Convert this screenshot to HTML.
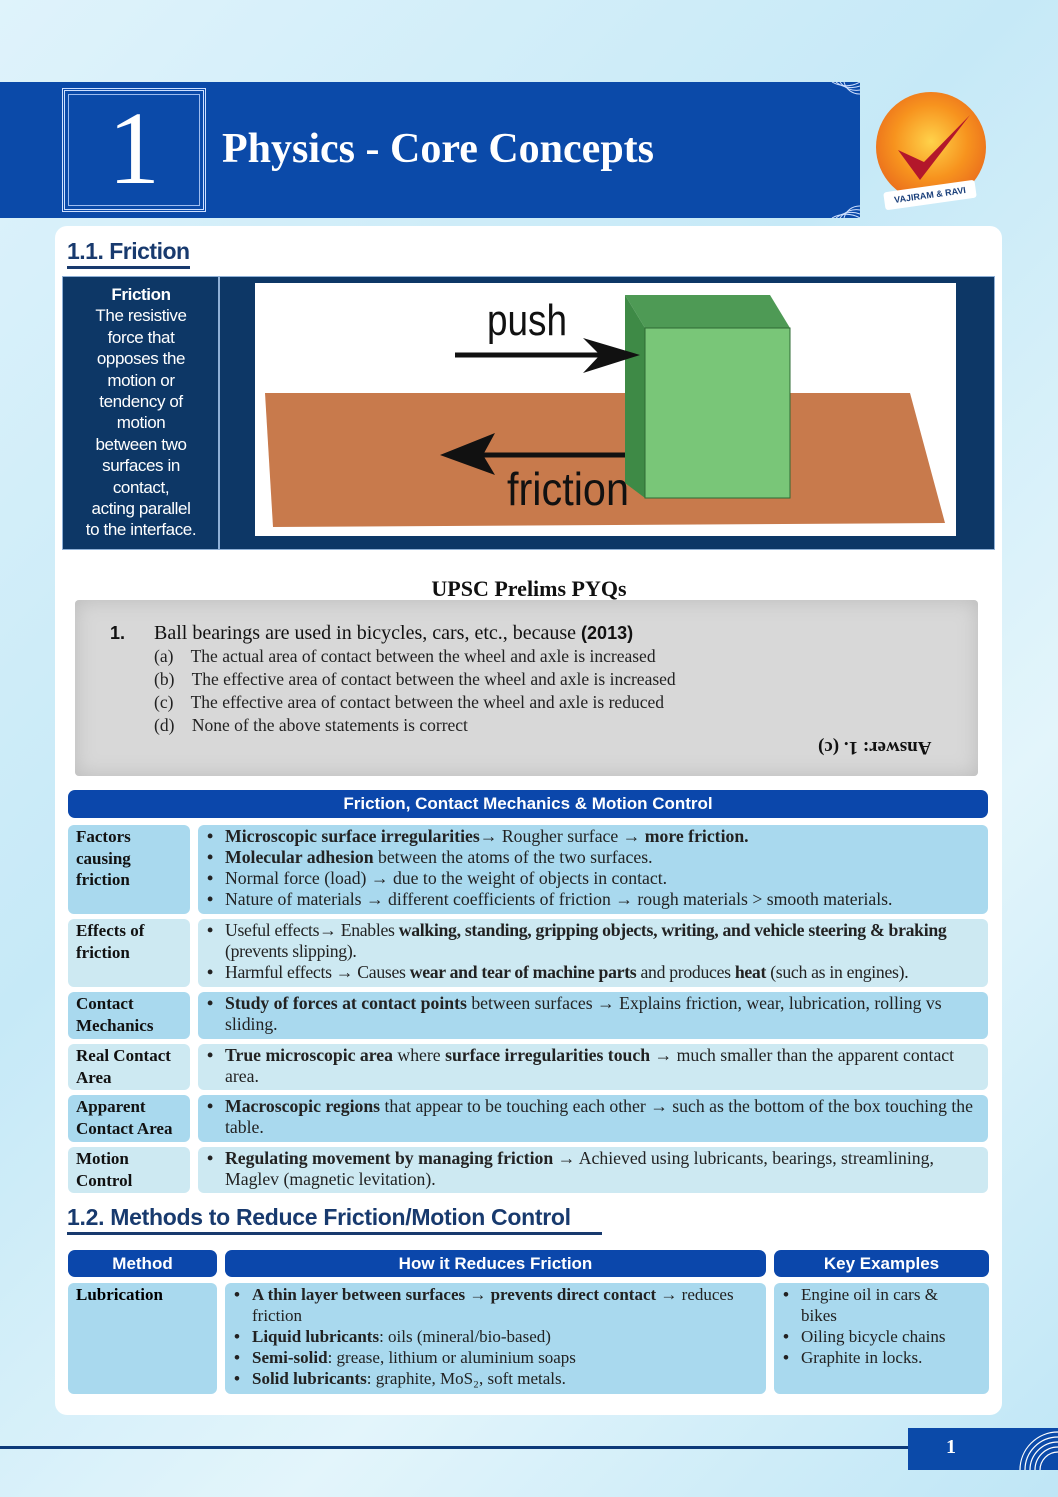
<!DOCTYPE html>
<html><head><meta charset="utf-8"><style>
*{margin:0;padding:0;box-sizing:border-box}
body{width:1058px;height:1497px;position:relative;overflow:hidden;font-family:"Liberation Serif",serif;background:linear-gradient(135deg,#dff3fb 0%,#c6e9f7 40%,#e3f5fb 70%,#bfe6f6 100%);}
.a{position:absolute}
.sans{font-family:"Liberation Sans",sans-serif}
.row{position:absolute;left:68px;width:920px}
.lc{position:absolute;left:0;width:122px;top:0;bottom:0;border-radius:6px;padding:1px 8px;font-weight:bold;font-size:17px;line-height:21.5px;color:#111}
.rc{position:absolute;left:130px;right:0;top:0;bottom:0;border-radius:6px;padding:1px 6px 0 27px;font-size:17.7px;line-height:21px;color:#222}
.rc div{position:relative}
.rc div:before{content:"•";position:absolute;left:-18px;font-weight:bold}
.d .lc,.d .rc{background:#a9d9ee}
.l .lc,.l .rc{background:#cde9f2}
.hd{position:absolute;background:#0b47ab;color:#fff;border-radius:7px;font-family:"Liberation Sans",sans-serif;font-weight:bold;font-size:17px;text-align:center;line-height:28px}
</style></head><body>
<div class="a" style="left:0;top:82px;width:860px;height:136px;background:#0b4aa9"></div>
<div class="a" style="left:62px;top:88px;width:144px;height:124px;border:3px double #cfe0ff"></div>
<div class="a" style="left:68px;top:94px;width:132px;height:112px;border:1px solid #9fbdf0"></div>
<div class="a" style="left:62px;top:84px;width:144px;text-align:center;color:#fff;font-size:104px;line-height:130px">1</div>
<div class="a" style="left:222px;top:124px;color:#fff;font-size:42px;font-weight:bold;line-height:50px">Physics - Core Concepts</div>
<svg class="a" style="left:830px;top:82px" width="30" height="136"><g fill="none" stroke="#cfe0ff" stroke-width="1"><path d="M30 0 A28 28 0 0 1 2 0"/><path d="M30 4 A24 24 0 0 1 6 0"/><path d="M30 8 A20 20 0 0 1 10 0"/><path d="M30 12 A16 16 0 0 1 14 0"/><path d="M30 136 A28 28 0 0 0 2 136"/><path d="M30 132 A24 24 0 0 0 6 136"/><path d="M30 128 A20 20 0 0 0 10 136"/><path d="M30 124 A16 16 0 0 0 14 136"/></g></svg>
<div class="a" style="left:876px;top:92px;width:110px;height:110px;border-radius:50%;background:radial-gradient(circle at 50% 45%,#ffd24a 0%,#f7931e 45%,#e0501b 100%)"></div>
<svg class="a" style="left:890px;top:110px" width="90" height="80"><path d="M8 40 L30 70 L80 5 L34 52 Z" fill="#b3172b"/></svg>
<div class="a sans" style="left:884px;top:186px;width:92px;height:18px;background:#fff;transform:rotate(-8deg);border-radius:3px;font-size:9px;font-weight:bold;color:#1a3f7a;text-align:center;line-height:18px">VAJIRAM &amp; RAVI</div>
<div class="a" style="left:55px;top:226px;width:947px;height:1189px;background:#fff;border-radius:12px"></div>
<div class="a sans" style="left:67px;top:236px;font-size:23px;font-weight:bold;color:#183a6e;line-height:30px;letter-spacing:-0.5px">1.1. Friction</div>
<div class="a" style="left:67px;top:266px;width:123px;height:3px;background:#183a6e"></div>
<div class="a" style="left:62px;top:276px;width:933px;height:274px;background:#0d3766;border:1px solid #8fb0d6"></div>
<div class="a" style="left:218px;top:276px;width:2px;height:274px;background:#8fb0d6"></div>
<div class="a sans" style="left:66px;top:284px;width:150px;text-align:center;color:#fff;font-size:17px;line-height:21.4px;letter-spacing:-0.4px"><b>Friction</b><br>The resistive<br>force that<br>opposes the<br>motion or<br>tendency of<br>motion<br>between two<br>surfaces in<br>contact,<br>acting parallel<br>to the interface.</div>
<svg class="a" style="left:255px;top:283px" width="701" height="253">
<rect width="701" height="253" fill="#fff"/>
<polygon points="10,110 655,110 690,240 18,244" fill="#c87a4c"/>
<polygon points="370,12 515,12 535,45 390,45" fill="#4e9a55"/>
<polygon points="370,12 390,45 390,215 370,200" fill="#3e8a46"/>
<rect x="390" y="45" width="145" height="170" fill="#79c678" stroke="#2d6b33"/>
<line x1="200" y1="72" x2="365" y2="72" stroke="#111" stroke-width="5"/>
<polygon points="328,55 385,72 328,90 345,72" fill="#111"/>
<line x1="210" y1="172" x2="370" y2="172" stroke="#111" stroke-width="5"/>
<polygon points="185,172 240,150 228,172 240,192" fill="#111"/>
<text x="232" y="52" font-family="Liberation Sans" font-size="44" fill="#111" textLength="80" lengthAdjust="spacingAndGlyphs">push</text>
<text x="252" y="222" font-family="Liberation Sans" font-size="46" fill="#111" textLength="122" lengthAdjust="spacingAndGlyphs">friction</text>
</svg>
<div class="a" style="left:0;top:576px;width:1058px;text-align:center;font-size:22px;font-weight:bold;color:#111">UPSC Prelims PYQs</div>
<div class="a" style="left:75px;top:600px;width:903px;height:176px;background:#d8d8d8;border-radius:4px;box-shadow:inset 0 0 20px #bbb"></div>
<div class="a" style="left:110px;top:621px;font-size:18px;line-height:24px;color:#111"><b style="font-family:'Liberation Sans'">1.</b></div>
<div class="a" style="left:154px;top:621px;font-size:20px;line-height:24px;color:#111">Ball bearings are used in bicycles, cars, etc., because <b class="sans" style="font-size:18px">(2013)</b></div>
<div class="a" style="left:154px;top:645px;font-size:17.5px;line-height:23px;color:#222">
<div>(a)&nbsp;&nbsp;&nbsp; The actual area of contact between the wheel and axle is increased</div>
<div>(b)&nbsp;&nbsp;&nbsp; The effective area of contact between the wheel and axle is increased</div>
<div>(c)&nbsp;&nbsp;&nbsp; The effective area of contact between the wheel and axle is reduced</div>
<div>(d)&nbsp;&nbsp;&nbsp; None of the above statements is correct</div></div>
<div class="a" style="left:818px;top:736px;font-size:19px;font-weight:bold;color:#111;transform:rotate(180deg)">Answer: 1. (c)</div>
<div class="hd" style="left:68px;top:790px;width:920px;height:28px">Friction, Contact Mechanics &amp; Motion Control</div>
<div class="row d" style="top:825px;height:89px"><div class="lc">Factors<br>causing<br>friction</div><div class="rc">
<div><b>Microscopic surface irregularities</b>→ Rougher surface → <b>more friction.</b></div>
<div><b>Molecular adhesion</b> between the atoms of the two surfaces.</div>
<div>Normal force (load) → due to the weight of objects in contact.</div>
<div>Nature of materials → different coefficients of friction → rough materials &gt; smooth materials.</div></div></div>
<div class="row l" style="top:919px;height:68px"><div class="lc">Effects of<br>friction</div><div class="rc" style="letter-spacing:-0.3px">
<div>Useful effects→ Enables <b>walking, standing, gripping objects, writing, and vehicle steering &amp; braking</b> (prevents slipping).</div>
<div>Harmful effects → Causes <b>wear and tear of machine parts</b> and produces <b>heat</b> (such as in engines).</div></div></div>
<div class="row d" style="top:992px;height:47px"><div class="lc">Contact<br>Mechanics</div><div class="rc">
<div><b>Study of forces at contact points</b> between surfaces → Explains friction, wear, lubrication, rolling vs sliding.</div></div></div>
<div class="row l" style="top:1044px;height:46px"><div class="lc">Real Contact<br>Area</div><div class="rc">
<div><b>True microscopic area</b> where <b>surface irregularities touch</b> → much smaller than the apparent contact area.</div></div></div>
<div class="row d" style="top:1095px;height:47px"><div class="lc">Apparent<br>Contact Area</div><div class="rc">
<div><b>Macroscopic regions</b> that appear to be touching each other → such as the bottom of the box touching the table.</div></div></div>
<div class="row l" style="top:1147px;height:46px"><div class="lc">Motion<br>Control</div><div class="rc">
<div><b>Regulating movement by managing friction</b> → Achieved using lubricants, bearings, streamlining, Maglev (magnetic levitation).</div></div></div>
<div class="a sans" style="left:67px;top:1202px;font-size:23px;font-weight:bold;color:#183a6e;line-height:30px;letter-spacing:-0.3px">1.2. Methods to Reduce Friction/Motion Control</div>
<div class="a" style="left:67px;top:1232px;width:535px;height:3px;background:#183a6e"></div>
<div class="hd" style="left:68px;top:1250px;width:149px;height:27px">Method</div>
<div class="hd" style="left:225px;top:1250px;width:541px;height:27px">How it Reduces Friction</div>
<div class="hd" style="left:774px;top:1250px;width:215px;height:27px">Key Examples</div>
<div class="a" style="left:68px;top:1283px;width:149px;height:111px;background:#a9d9ee;border-radius:6px;padding:1px 8px;font-weight:bold;font-size:17px;line-height:21px">Lubrication</div>
<div class="a" style="left:225px;top:1283px;width:541px;height:111px;background:#a9d9ee;border-radius:6px">
<div class="rc" style="left:0;background:none;padding-top:1px;font-size:17px">
<div><b>A thin layer between surfaces → prevents direct contact →</b> reduces friction</div>
<div><b>Liquid lubricants</b>: oils (mineral/bio-based)</div>
<div><b>Semi-solid</b>: grease, lithium or aluminium soaps</div>
<div><b>Solid lubricants</b>: graphite, MoS₂, soft metals.</div></div></div>
<div class="a" style="left:774px;top:1283px;width:215px;height:111px;background:#a9d9ee;border-radius:6px">
<div class="rc" style="left:0;background:none;padding-top:1px;padding-right:30px;font-size:17px">
<div>Engine oil in cars &amp; bikes</div>
<div>Oiling bicycle chains</div>
<div>Graphite in locks.</div></div></div>
<div class="a" style="left:0;top:1446px;width:910px;height:3px;background:#0d3a7a"></div>
<div class="a" style="left:908px;top:1428px;width:150px;height:42px;background:#0b4aa9"></div>
<div class="a" style="left:946px;top:1436px;color:#fff;font-size:20px;font-weight:bold">1</div>
<svg class="a" style="left:1015px;top:1428px" width="43" height="42"><g fill="none" stroke="#fff" stroke-width="1.2"><path d="M5 42 A38 38 0 0 1 43 4"/><path d="M10 42 A33 33 0 0 1 43 9"/><path d="M15 42 A28 28 0 0 1 43 14"/><path d="M20 42 A23 23 0 0 1 43 19"/><path d="M25 42 A18 18 0 0 1 43 24"/></g></svg>
</body></html>
